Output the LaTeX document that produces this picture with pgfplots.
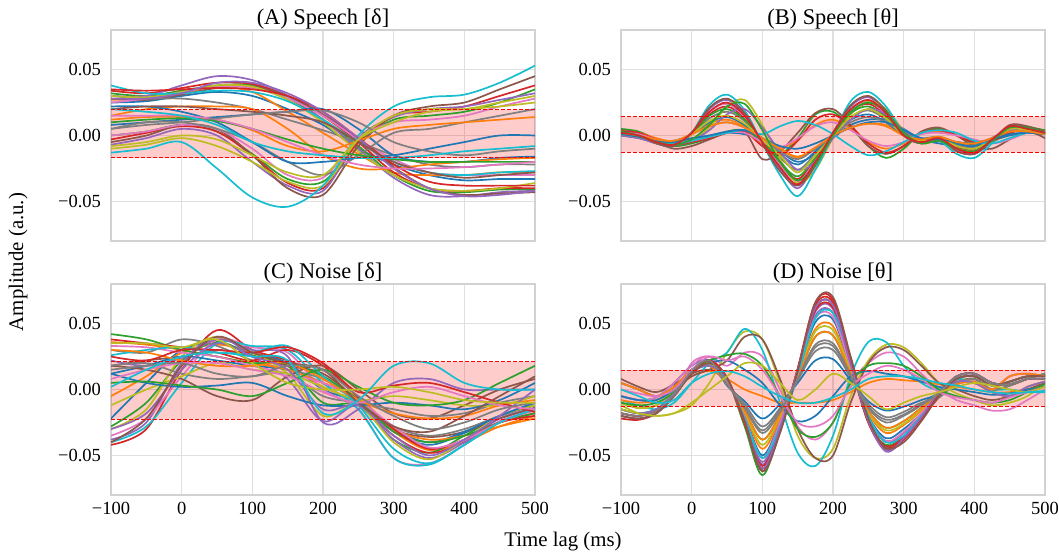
\documentclass[border=0pt]{standalone}
\usepackage{fontspec}
\setmainfont{Liberation Serif}
\usepackage{pgfplots}
\pgfplotsset{compat=1.18}
\definecolor{c0}{HTML}{1F77B4}\definecolor{c1}{HTML}{FF7F0E}\definecolor{c2}{HTML}{2CA02C}
\definecolor{c3}{HTML}{D62728}\definecolor{c4}{HTML}{9467BD}\definecolor{c5}{HTML}{8C564B}
\definecolor{c6}{HTML}{E377C2}\definecolor{c7}{HTML}{7F7F7F}\definecolor{c8}{HTML}{BCBD22}
\definecolor{c9}{HTML}{17BECF}
\pgfplotscreateplotcyclelist{tab}{c0\\c1\\c2\\c3\\c4\\c5\\c6\\c7\\c8\\c9\\}
\def\popt{smooth,tension=0.55,line width=0.85pt}
% delta panels: x = -100,-50,...,500
\newcommand\LA[9]{\def\pA{(-100,#1)(-50,#2)(0,#3)(50,#4)(100,#5)(150,#6)(200,#7)(250,#8)(300,#9)}\LB}
\newcommand\LB[4]{\edef\tmp{\noexpand\addplot+[\popt] coordinates {\pA(350,#1)(400,#2)(450,#3)(500,#4)};}\tmp}
% theta panels: x = -100,-75,...,500
\newcommand\TA[9]{\def\pA{(-100,#1)(-75,#2)(-50,#3)(-25,#4)(0,#5)(25,#6)(50,#7)(75,#8)(100,#9)}\TB}
\newcommand\TB[9]{\edef\pA{\pA(125,#1)(150,#2)(175,#3)(200,#4)(225,#5)(250,#6)(275,#7)(300,#8)(325,#9)}\TC}
\newcommand\TC[7]{\edef\tmp{\noexpand\addplot+[\popt] coordinates {\pA(350,#1)(375,#2)(400,#3)(425,#4)(450,#5)(475,#6)(500,#7)};}\tmp}
\newcommand\band[2]{\addplot[draw=none,fill=red,fill opacity=0.2,forget plot] coordinates {(-100,#1)(500,#1)(500,#2)(-100,#2)};}
\newcommand\dlines[2]{\addplot[red,line width=0.6pt,dash pattern=on 2pt off 1pt,forget plot] coordinates {(-100,#1)(500,#1)};
\addplot[red,line width=0.6pt,dash pattern=on 2pt off 1pt,forget plot] coordinates {(-100,#2)(500,#2)};}
\pgfplotsset{panel/.style={scale only axis, width=212pt, height=105.5pt, anchor=south west,
  xmin=-100, xmax=500, ymin=-0.08, ymax=0.08, scaled y ticks=false, scaled x ticks=false,
  xtick={-100,0,...,500}, ytick={-0.05,0,0.05}, yticklabels={−0.05,0.00,0.05},
  grid=major, major grid style={draw=gray!25, line width=0.6pt},
  axis line style={draw=gray!35, line width=0.6pt}, major tick length=0pt, tick style={draw=none},
  cycle list name=tab, no markers,
  tick label style={font=\fontsize{9.25}{11}\selectfont},
  yticklabel style={xshift=-1.5pt},
  title style={font=\fontsize{11.2}{13}\selectfont, at={(0.5,1)}, anchor=base, yshift=-3.4pt}}}
\begin{document}
\begin{tikzpicture}
\useasboundingbox (0,0) rectangle (529.5pt,278pt);
% (A)
\begin{axis}[panel, at={(55.5pt,157.5pt)}, title={(A) Speech [δ]}, xticklabels={}]
\band{-0.0167}{0.0197}
\LA{0.025}{0.026}{0.03}{0.033}{0.03}{0.02}{0.008}{-0.01}{-0.022}{-0.03}{-0.034}{-0.033}{-0.033}
\LA{0.027}{0.028}{0.032}{0.037}{0.033}{0.018}{0.002}{-0.014}{-0.028}{-0.03}{-0.03}{-0.028}{-0.028}
\LA{0.032}{0.03}{0.034}{0.038}{0.038}{0.028}{0.012}{-0.008}{-0.03}{-0.042}{-0.043}{-0.041}{-0.041}
\LA{0.034}{0.032}{0.036}{0.04}{0.039}{0.03}{0.015}{-0.005}{-0.028}{-0.04}{-0.042}{-0.04}{-0.04}
\LA{0.03}{0.03}{0.038}{0.045}{0.042}{0.03}{0.012}{-0.01}{-0.032}{-0.045}{-0.046}{-0.043}{-0.042}
\LA{0.028}{0.027}{0.031}{0.036}{0.037}{0.03}{0.016}{-0.002}{-0.024}{-0.04}{-0.045}{-0.044}{-0.043}
\LA{0.025}{0.028}{0.033}{0.037}{0.036}{0.028}{0.015}{-0.003}{-0.018}{-0.028}{-0.03}{-0.03}{-0.03}
\LA{0.03}{0.028}{0.028}{0.025}{0.02}{0.012}{0.004}{-0.005}{-0.015}{-0.022}{-0.024}{-0.022}{-0.022}
\LA{0.03}{0.029}{0.033}{0.038}{0.037}{0.027}{0.01}{-0.012}{-0.03}{-0.04}{-0.042}{-0.04}{-0.036}
\LA{0.038}{0.032}{0.032}{0.034}{0.033}{0.026}{0.012}{-0.005}{-0.02}{-0.028}{-0.03}{-0.028}{-0.027}
\LA{0.008}{0.01}{0.012}{0.014}{0.016}{0.018}{0.02}{0.005}{-0.015}{-0.02}{-0.02}{-0.017}{-0.016}
\LA{0.015}{0.02}{0.022}{0.022}{0.02}{0.005}{-0.015}{-0.025}{-0.025}{-0.022}{-0.02}{-0.018}{-0.017}
\LA{0}{0.003}{0.008}{0.003}{-0.014}{-0.033}{-0.035}{-0.005}{0.012}{0.015}{0.018}{0.025}{0.035}
\LA{-0.003}{0.002}{0.007}{0.003}{-0.015}{-0.036}{-0.04}{-0.005}{0.015}{0.018}{0.022}{0.03}{0.038}
\LA{-0.007}{-0.002}{0.005}{0}{-0.02}{-0.038}{-0.042}{-0.002}{0.014}{0.02}{0.022}{0.027}{0.032}
\LA{-0.005}{0}{0.008}{0.005}{-0.015}{-0.04}{-0.045}{-0.008}{0.015}{0.022}{0.025}{0.035}{0.045}
\LA{0}{0.003}{0.008}{0.005}{-0.01}{-0.03}{-0.032}{-0.002}{0.01}{0.012}{0.015}{0.022}{0.028}
\LA{0.005}{0.01}{0.01}{0.005}{-0.005}{-0.02}{-0.03}{-0.015}{0.002}{0.005}{0.01}{0.015}{0.02}
\LA{-0.01}{-0.007}{-0.002}{-0.008}{-0.02}{-0.035}{-0.038}{-0.003}{0.015}{0.02}{0.02}{0.025}{0.03}
\LA{-0.013}{-0.01}{-0.005}{-0.025}{-0.047}{-0.054}{-0.038}{0}{0.022}{0.029}{0.031}{0.04}{0.053}
\LA{0.022}{0.022}{0.018}{0.01}{-0.005}{-0.02}{-0.02}{-0.017}{-0.015}{-0.01}{-0.005}{0}{0}
\LA{0.012}{0.014}{0.014}{0.012}{0.004}{-0.008}{-0.012}{-0.004}{0.005}{0.008}{0.01}{0.012}{0.014}
\LA{0.01}{0.012}{0.013}{0.011}{0.005}{-0.003}{-0.01}{-0.015}{-0.018}{-0.02}{-0.02}{-0.02}{-0.02}
\LA{0.035}{0.034}{0.035}{0.036}{0.035}{0.03}{0.018}{-0.002}{-0.022}{-0.035}{-0.038}{-0.038}{-0.038}
\LA{0.028}{0.028}{0.032}{0.04}{0.04}{0.032}{0.018}{-0.002}{-0.025}{-0.04}{-0.046}{-0.045}{-0.042}
\LA{0.02}{0.022}{0.022}{0.02}{0.018}{0.015}{0.01}{-0.005}{-0.02}{-0.028}{-0.032}{-0.03}{-0.028}
\LA{0.015}{0.015}{0.015}{0.012}{0.005}{-0.005}{-0.015}{-0.022}{-0.025}{-0.025}{-0.024}{-0.022}{-0.02}
\LA{0.005}{0.008}{0.01}{0.013}{0.016}{0.018}{0.019}{0.01}{-0.005}{-0.012}{-0.015}{-0.012}{-0.01}
\LA{-0.008}{-0.005}{0}{-0.003}{-0.015}{-0.028}{-0.03}{-0.003}{0.01}{0.018}{0.02}{0.022}{0.025}
\LA{0.02}{0.018}{0.015}{0.008}{-0.005}{-0.012}{-0.015}{-0.017}{-0.017}{-0.015}{-0.012}{-0.01}{-0.008}
\dlines{-0.0167}{0.0197}
\end{axis}
% (B)
\begin{axis}[panel, at={(310.5pt,157.5pt)}, title={(B) Speech [θ]}, xticklabels={}]
\band{-0.0127}{0.0144}
\TA{0}{-0.002}{-0.005}{-0.006}{-0.003}{0}{0.002}{0.001}{-0.003}{-0.012}{-0.02}{-0.014}{-0.002}{0.008}{0.012}{0.012}{0.005}{-0.003}{-0.006}{-0.008}{-0.008}{-0.004}{0}{0.002}{0.001}
\TA{0.002}{0}{-0.004}{-0.006}{0.001}{0.009}{0.012}{0.007}{-0.002}{-0.01}{-0.017}{-0.01}{0}{0.006}{0.009}{0.008}{0.002}{-0.004}{-0.003}{-0.006}{-0.007}{-0.002}{0.004}{0.003}{0.001}
\TA{0.005}{0.003}{-0.003}{-0.008}{-0.006}{-0.002}{0.003}{0.004}{-0.004}{-0.014}{-0.002}{0.016}{0.018}{0.006}{-0.008}{-0.017}{-0.01}{0.002}{0.005}{0}{-0.006}{-0.005}{0.003}{0.006}{0.004}
\TA{0.002}{0}{-0.005}{-0.006}{0.001}{0.016}{0.022}{0.013}{-0.004}{-0.021}{-0.033}{-0.018}{0.002}{0.018}{0.024}{0.015}{0}{-0.005}{-0.002}{-0.009}{-0.011}{-0.003}{0.006}{0.005}{0.002}
\TA{0.002}{0}{-0.006}{-0.008}{0.002}{0.02}{0.027}{0.016}{-0.005}{-0.025}{-0.04}{-0.022}{0.002}{0.022}{0.029}{0.018}{0}{-0.006}{-0.002}{-0.011}{-0.014}{-0.004}{0.007}{0.006}{0.002}
\TA{0.004}{0.002}{-0.005}{-0.01}{-0.008}{-0.003}{0.002}{0.003}{-0.018}{-0.012}{0.002}{0.017}{0.02}{0.008}{-0.008}{-0.014}{-0.008}{0.003}{0.006}{0}{-0.008}{-0.01}{-0.003}{0.003}{-0.002}
\TA{0.002}{0}{-0.005}{-0.006}{0.002}{0.018}{0.024}{0.014}{-0.005}{-0.022}{-0.035}{-0.019}{0.002}{0.019}{0.026}{0.016}{0}{-0.005}{-0.002}{-0.01}{-0.012}{-0.003}{0.006}{0.005}{0.002}
\TA{0.002}{0}{-0.004}{-0.005}{0.001}{0.013}{0.018}{0.011}{-0.004}{-0.017}{-0.026}{-0.014}{0.001}{0.014}{0.019}{0.012}{0}{-0.004}{-0.001}{-0.007}{-0.009}{-0.002}{0.005}{0.004}{0.001}
\TA{0.001}{-0.001}{-0.005}{-0.007}{-0.004}{0.006}{0.022}{0.027}{0.008}{-0.018}{-0.036}{-0.026}{-0.002}{0.016}{0.026}{0.02}{0.004}{-0.006}{-0.004}{-0.01}{-0.012}{-0.004}{0.006}{0.006}{0.003}
\TA{0.002}{0}{-0.006}{-0.008}{0.002}{0.023}{0.031}{0.019}{-0.006}{-0.03}{-0.046}{-0.026}{0}{0.026}{0.033}{0.022}{0.002}{-0.006}{-0.004}{-0.014}{-0.017}{-0.006}{0.006}{0.006}{0.002}
\TA{0.002}{0}{-0.003}{-0.004}{0.001}{0.01}{0.014}{0.008}{-0.003}{-0.014}{-0.022}{-0.012}{0.001}{0.012}{0.016}{0.01}{0}{-0.003}{-0.001}{-0.006}{-0.008}{-0.002}{0.004}{0.003}{0.001}
\TA{0.003}{0.002}{-0.002}{-0.005}{-0.004}{-0.001}{0.002}{0.003}{-0.006}{-0.01}{-0.003}{0.008}{0.012}{0.005}{-0.005}{-0.01}{-0.006}{0.002}{0.003}{0}{-0.004}{-0.003}{0.002}{0.004}{0.002}
\TA{0.002}{0}{-0.004}{-0.006}{0.001}{0.015}{0.02}{0.012}{-0.004}{-0.02}{-0.031}{-0.017}{0.001}{0.017}{0.022}{0.014}{0}{-0.004}{-0.001}{-0.008}{-0.01}{-0.003}{0.006}{0.004}{0.001}
\TA{0.003}{0.002}{-0.003}{-0.007}{-0.005}{-0.002}{0.002}{0.003}{-0.008}{-0.015}{-0.004}{0.012}{0.016}{0.007}{-0.006}{-0.013}{-0.008}{0.002}{0.004}{0}{-0.005}{-0.004}{0.002}{0.005}{0.003}
\TA{0}{-0.002}{-0.006}{-0.007}{-0.004}{0.004}{0.016}{0.02}{0.006}{-0.012}{-0.026}{-0.02}{-0.002}{0.012}{0.02}{0.016}{0.004}{-0.004}{-0.004}{-0.008}{-0.01}{-0.004}{0.004}{0.005}{0.002}
\TA{0.003}{0}{-0.006}{-0.008}{0.002}{0.021}{0.028}{0.017}{-0.006}{-0.027}{-0.038}{-0.023}{0.002}{0.023}{0.03}{0.019}{0}{-0.006}{-0.002}{-0.012}{-0.014}{-0.004}{0.008}{0.007}{0.003}
\TA{0.002}{0.001}{-0.003}{-0.005}{-0.004}{-0.001}{0.002}{0.002}{-0.005}{-0.009}{-0.002}{0.007}{0.01}{0.004}{-0.004}{-0.008}{-0.005}{0.001}{0.002}{0}{-0.003}{-0.006}{-0.003}{0.002}{0.002}
\TA{0.001}{-0.001}{-0.004}{-0.005}{0.001}{0.007}{0.01}{0.006}{-0.002}{-0.012}{-0.018}{-0.01}{0}{0.01}{0.014}{0.01}{0.002}{-0.002}{-0.001}{-0.005}{-0.006}{-0.002}{0.003}{0.003}{0.001}
\TA{0.001}{-0.001}{-0.004}{-0.006}{0.001}{0.011}{0.015}{0.009}{-0.003}{-0.015}{-0.028}{-0.015}{0}{0.014}{0.02}{0.013}{0}{-0.004}{-0.002}{-0.008}{-0.01}{-0.003}{0.005}{0.004}{0.001}
\TA{0.002}{0}{-0.004}{-0.006}{-0.004}{-0.001}{0.002}{0.004}{0.001}{0.007}{0.011}{0.008}{0.001}{-0.008}{-0.015}{-0.012}{-0.005}{0.002}{0.004}{0.002}{-0.004}{-0.006}{-0.002}{0.002}{0.002}
\TA{0.001}{-0.001}{-0.004}{-0.005}{-0.002}{0}{0.003}{0.004}{-0.002}{-0.008}{-0.01}{-0.006}{0}{0.006}{0.01}{0.01}{0.004}{-0.002}{-0.003}{-0.005}{-0.006}{-0.003}{0.001}{0.002}{0.001}
\TA{0.002}{0}{-0.003}{-0.004}{0.001}{0.007}{0.01}{0.006}{-0.002}{-0.01}{-0.016}{-0.009}{0}{0.006}{0.009}{0.007}{0}{-0.003}{-0.001}{-0.005}{-0.006}{-0.002}{0.003}{0.003}{0.001}
\TA{0.003}{0}{-0.005}{-0.007}{-0.003}{0.008}{0.022}{0.024}{0.004}{-0.02}{-0.034}{-0.022}{0}{0.018}{0.025}{0.018}{0.002}{-0.006}{-0.004}{-0.01}{-0.012}{-0.004}{0.006}{0.006}{0.002}
\TA{0.002}{0}{-0.005}{-0.007}{0.002}{0.018}{0.025}{0.015}{-0.005}{-0.024}{-0.037}{-0.02}{0.002}{0.02}{0.027}{0.017}{0}{-0.005}{-0.002}{-0.01}{-0.013}{-0.003}{0.007}{0.005}{0.002}
\dlines{-0.0127}{0.0144}
\end{axis}
% (C)
\begin{axis}[panel, at={(55.5pt,30.5pt)}, title={(C) Noise [δ]}, xticklabels={−100,0,100,200,300,400,500}]
\band{-0.0225}{0.021}
\LA{-0.022}{0.005}{0.03}{0.035}{0.028}{0.02}{0}{-0.01}{-0.032}{-0.042}{-0.033}{-0.02}{-0.01}
\LA{-0.005}{0.01}{0.028}{0.034}{0.028}{0.018}{0.002}{-0.01}{-0.032}{-0.046}{-0.04}{-0.028}{-0.02}
\LA{-0.028}{-0.01}{0.022}{0.036}{0.026}{0.018}{-0.01}{-0.012}{-0.038}{-0.048}{-0.035}{-0.02}{-0.012}
\LA{-0.042}{-0.03}{0.015}{0.045}{0.03}{0.022}{0.01}{-0.01}{-0.035}{-0.048}{-0.04}{-0.025}{-0.018}
\LA{-0.038}{-0.025}{0.02}{0.04}{0.025}{0.008}{-0.024}{-0.012}{-0.038}{-0.052}{-0.04}{-0.022}{-0.014}
\LA{0.018}{0.022}{0.025}{0.03}{0.025}{0.018}{0.012}{-0.008}{-0.03}{-0.036}{-0.032}{-0.022}{-0.014}
\LA{-0.035}{-0.022}{0.01}{0.038}{0.032}{0.028}{0}{-0.015}{-0.052}{-0.056}{-0.042}{-0.024}{-0.016}
\LA{0.03}{0.028}{0.038}{0.033}{0.022}{0.015}{0.008}{-0.008}{-0.028}{-0.035}{-0.03}{-0.02}{-0.012}
\LA{-0.03}{-0.015}{0.025}{0.04}{0.028}{0.012}{-0.02}{-0.012}{-0.04}{-0.053}{-0.038}{-0.02}{-0.012}
\LA{-0.04}{-0.028}{0.005}{0.035}{0.033}{0.03}{0.005}{-0.015}{-0.052}{-0.057}{-0.042}{-0.025}{-0.015}
\LA{0.012}{0.018}{0.025}{0.022}{0.018}{0.015}{0.005}{-0.008}{-0.03}{-0.04}{-0.032}{-0.02}{-0.01}
\LA{0.036}{0.034}{0.03}{0.025}{0.02}{0.015}{0.005}{-0.006}{-0.03}{-0.038}{-0.035}{-0.028}{-0.022}
\LA{0.042}{0.038}{0.03}{0.025}{0.02}{0.02}{0.01}{-0.008}{-0.032}{-0.04}{-0.035}{-0.025}{-0.018}
\LA{0.038}{0.035}{0.032}{0.028}{0.022}{0.03}{0.018}{-0.006}{-0.03}{-0.045}{-0.038}{-0.025}{-0.02}
\LA{0.022}{0.018}{0.024}{0.038}{0.03}{0.025}{-0.025}{-0.015}{0.005}{0.008}{0}{0}{0}
\LA{0.018}{0.015}{0.008}{-0.005}{-0.008}{0.01}{0.018}{0}{-0.018}{-0.022}{-0.012}{0}{0.008}
\LA{0.033}{0.032}{0.028}{0.025}{0.018}{0.012}{0.005}{-0.008}{-0.028}{-0.044}{-0.038}{-0.025}{-0.015}
\LA{0.018}{0.02}{0.012}{0.008}{0.01}{0.012}{-0.005}{-0.01}{-0.015}{-0.02}{-0.018}{-0.01}{-0.005}
\LA{-0.012}{0}{0.01}{0.02}{0.015}{0.012}{0.002}{-0.008}{-0.005}{-0.008}{-0.012}{-0.012}{-0.005}
\LA{0.026}{0.03}{0.032}{0.028}{0.028}{0.033}{0.01}{-0.012}{-0.045}{-0.056}{-0.042}{-0.025}{-0.015}
\LA{0.012}{0.005}{0.002}{0.003}{0.005}{-0.005}{-0.012}{-0.012}{-0.01}{-0.012}{-0.015}{-0.008}{0.005}
\LA{0.03}{0.028}{0.022}{0.018}{0.018}{0.02}{0.008}{-0.008}{-0.018}{-0.022}{-0.02}{-0.012}{-0.008}
\LA{0.005}{0.006}{0.003}{0}{-0.005}{0.005}{0.015}{0.002}{-0.01}{-0.012}{-0.008}{0.005}{0.018}
\LA{0.025}{0.022}{0.03}{0.03}{0.028}{0.032}{0.02}{-0.002}{0.003}{0.005}{-0.002}{-0.01}{-0.017}
\LA{-0.03}{-0.018}{0.015}{0.035}{0.025}{0.015}{-0.015}{-0.012}{-0.035}{-0.05}{-0.038}{-0.02}{0}
\LA{-0.04}{-0.022}{0.018}{0.04}{0.028}{0.02}{0.015}{-0.01}{-0.028}{-0.032}{-0.02}{-0.005}{0.01}
\LA{0.008}{0.015}{0.02}{0.02}{0.015}{0.01}{-0.002}{-0.01}{-0.002}{0.002}{-0.005}{-0.012}{-0.015}
\LA{0.015}{0.018}{0.02}{0.012}{0.01}{0.018}{0.015}{-0.005}{-0.02}{-0.03}{-0.025}{-0.015}{-0.01}
\LA{0.035}{0.035}{0.032}{0.038}{0.02}{0.005}{0}{0}{0.002}{-0.002}{-0.008}{-0.01}{-0.01}
\LA{0.002}{0.015}{0.025}{0.028}{0.025}{0.022}{-0.018}{-0.008}{0.018}{0.02}{0.005}{0}{0}
\dlines{-0.0225}{0.021}
\end{axis}
% (D)
\begin{axis}[panel, at={(310.5pt,30.5pt)}, title={(D) Noise [θ]}, xticklabels={−100,0,100,200,300,400,500}]
\band{-0.0126}{0.0146}
\TA{-0.015}{-0.018}{-0.015}{-0.003}{0.013}{0.018}{0.006}{-0.02}{-0.05}{-0.024}{0.012}{0.051}{0.053}{0.016}{-0.02}{-0.037}{-0.03}{-0.018}{-0.003}{0.01}{0.012}{0.005}{0.004}{0.008}{0.008}
\TA{-0.01}{-0.014}{-0.012}{0}{0.015}{0.02}{0.006}{-0.018}{-0.045}{-0.022}{0.011}{0.046}{0.048}{0.014}{-0.018}{-0.033}{-0.027}{-0.016}{-0.002}{0.006}{0.005}{-0.002}{-0.005}{0.002}{0.006}
\TA{-0.02}{-0.022}{-0.018}{-0.005}{0.012}{0.02}{0.008}{-0.028}{-0.065}{-0.03}{0.015}{0.062}{0.064}{0.018}{-0.025}{-0.042}{-0.036}{-0.02}{-0.005}{0.008}{0.01}{0.003}{0.006}{0.01}{0.01}
\TA{-0.022}{-0.023}{-0.018}{-0.004}{0.014}{0.02}{0.008}{-0.025}{-0.062}{-0.03}{0.015}{0.064}{0.066}{0.02}{-0.025}{-0.046}{-0.038}{-0.022}{-0.006}{0.005}{0.008}{0}{0.003}{0.008}{0.012}
\TA{-0.018}{-0.02}{-0.016}{-0.004}{0.014}{0.022}{0.007}{-0.023}{-0.057}{-0.028}{0.014}{0.059}{0.061}{0.018}{-0.023}{-0.046}{-0.038}{-0.02}{-0.004}{0.004}{0.006}{0}{0.01}{0.012}{0.01}
\TA{0.008}{0.002}{-0.002}{0.004}{0.012}{0.015}{0.008}{-0.024}{-0.06}{-0.029}{0.015}{0.062}{0.064}{0.019}{-0.024}{-0.045}{-0.037}{-0.021}{-0.005}{0.008}{0.01}{0.003}{0.006}{0.01}{0.01}
\TA{-0.005}{-0.008}{-0.01}{-0.005}{0.02}{0.025}{0.018}{0.028}{0.025}{0}{-0.028}{-0.038}{-0.025}{0.005}{0.02}{0.028}{0.025}{0.012}{0}{-0.008}{-0.012}{-0.016}{-0.015}{-0.008}{0}
\TA{-0.01}{-0.014}{-0.012}{0}{0.015}{0.02}{0.004}{-0.013}{-0.031}{-0.015}{0.008}{0.032}{0.033}{0.01}{-0.013}{-0.023}{-0.019}{-0.011}{-0.002}{0.006}{0.005}{-0.002}{-0.005}{0.002}{0.006}
\TA{-0.012}{-0.018}{-0.02}{-0.018}{-0.012}{0.005}{0.028}{0.044}{0.038}{0.005}{-0.035}{-0.052}{-0.045}{-0.005}{0.022}{0.034}{0.032}{0.02}{0.005}{-0.003}{-0.008}{-0.012}{-0.01}{-0.005}{0.005}
\TA{-0.008}{-0.012}{-0.015}{-0.01}{0.005}{0.02}{0.028}{0.046}{0.03}{-0.01}{-0.048}{-0.058}{-0.035}{0.01}{0.036}{0.036}{0.018}{0.005}{0}{0.008}{0.005}{0}{0}{-0.002}{-0.002}
\TA{-0.005}{-0.008}{-0.006}{0.005}{0.018}{0.022}{0.003}{-0.009}{-0.022}{-0.011}{0.005}{0.022}{0.023}{0.007}{-0.009}{-0.016}{-0.013}{-0.008}{-0.003}{0.01}{0.012}{0.005}{0.004}{0.008}{0.008}
\TA{-0.008}{-0.01}{-0.008}{0}{0.01}{0.014}{0.008}{0}{-0.005}{-0.01}{-0.01}{-0.01}{-0.008}{-0.002}{0.005}{0.008}{0.007}{0.006}{0.004}{0.002}{0}{-0.002}{-0.002}{0}{0.002}
\TA{-0.015}{-0.018}{-0.015}{-0.003}{0.013}{0.018}{0.005}{-0.016}{-0.038}{-0.019}{0.009}{0.04}{0.041}{0.012}{-0.016}{-0.029}{-0.024}{-0.014}{-0.006}{0.005}{0.008}{0}{0.003}{0.008}{0.012}
\TA{-0.018}{-0.02}{-0.016}{-0.004}{0.014}{0.022}{0.008}{-0.024}{-0.058}{-0.028}{0.014}{0.06}{0.062}{0.019}{-0.024}{-0.043}{-0.036}{-0.021}{-0.005}{0.008}{0.01}{0.003}{0.006}{0.01}{0.01}
\TA{-0.02}{-0.022}{-0.018}{-0.005}{0.012}{0.02}{0.007}{-0.022}{-0.055}{-0.026}{0.013}{0.056}{0.058}{0.018}{-0.022}{-0.04}{-0.033}{-0.019}{-0.003}{0.01}{0.012}{0.005}{0.004}{0.008}{0.008}
\TA{0.005}{0}{-0.005}{0}{0.01}{0.015}{0.022}{0.04}{0.038}{0.008}{-0.03}{-0.052}{-0.05}{-0.01}{0.02}{0.032}{0.03}{0.018}{0.005}{0}{-0.005}{-0.008}{-0.005}{0}{0.005}
\TA{-0.005}{-0.008}{-0.006}{0.005}{0.018}{0.025}{0.007}{-0.021}{-0.052}{-0.025}{0.013}{0.054}{0.055}{0.017}{-0.021}{-0.039}{-0.032}{-0.018}{-0.004}{0.004}{0.006}{0}{0.01}{0.012}{0.01}
\TA{0.005}{0}{-0.005}{0.002}{0.015}{0.018}{0.004}{-0.011}{-0.028}{-0.014}{0.007}{0.029}{0.03}{0.009}{-0.011}{-0.021}{-0.017}{-0.01}{-0.006}{0.005}{0.008}{0}{0.003}{0.008}{0.012}
\TA{-0.01}{-0.014}{-0.012}{0}{0.015}{0.02}{0.005}{-0.017}{-0.042}{-0.02}{0.01}{0.044}{0.045}{0.014}{-0.017}{-0.031}{-0.026}{-0.015}{-0.002}{0.006}{0.005}{-0.002}{-0.005}{0.002}{0.006}
\TA{-0.015}{-0.018}{-0.015}{-0.003}{0.013}{0.018}{0.007}{-0.022}{-0.052}{-0.028}{0.01}{0.054}{0.058}{0.022}{-0.02}{-0.04}{-0.035}{-0.02}{-0.005}{0.008}{0.01}{0.003}{0.006}{0.01}{0.01}
\TA{-0.005}{-0.008}{-0.008}{0}{0.015}{0.02}{0.022}{0.015}{0.005}{-0.012}{-0.024}{-0.02}{-0.005}{0.01}{0.014}{0.012}{0.01}{0.006}{0.002}{0}{-0.002}{-0.004}{-0.003}{0}{0.002}
\TA{0.005}{0}{-0.005}{0.002}{0.015}{0.018}{0.005}{-0.016}{-0.038}{-0.019}{0.009}{0.04}{0.041}{0.012}{-0.016}{-0.029}{-0.024}{-0.014}{-0.004}{0.004}{0.006}{0}{0.01}{0.012}{0.01}
\TA{-0.01}{-0.012}{-0.01}{-0.002}{0.015}{0.022}{0.026}{0.027}{0.018}{-0.005}{-0.03}{-0.036}{-0.025}{0.005}{0.018}{0.02}{0.018}{0.01}{0}{-0.005}{-0.008}{-0.01}{-0.008}{-0.002}{0.004}
\TA{-0.018}{-0.02}{-0.016}{-0.004}{0.014}{0.022}{0.009}{-0.026}{-0.06}{-0.032}{0.016}{0.066}{0.068}{0.021}{-0.025}{-0.044}{-0.038}{-0.022}{-0.003}{0.01}{0.012}{0.005}{0.004}{0.008}{0.008}
\TA{-0.015}{-0.018}{-0.015}{-0.003}{0.013}{0.018}{0.008}{-0.024}{-0.06}{-0.029}{0.015}{0.062}{0.064}{0.019}{-0.024}{-0.047}{-0.037}{-0.021}{-0.002}{0.006}{0.005}{-0.002}{-0.005}{0.002}{0.006}
\TA{-0.02}{-0.022}{-0.018}{-0.005}{0.012}{0.02}{0.009}{-0.024}{-0.062}{-0.033}{0.014}{0.066}{0.07}{0.025}{-0.022}{-0.044}{-0.04}{-0.024}{-0.005}{0.008}{0.01}{0.003}{0.006}{0.01}{0.01}
\TA{0}{-0.003}{-0.005}{0}{0.015}{0.025}{0.022}{0.025}{0.015}{-0.005}{-0.025}{-0.028}{-0.02}{0.002}{0.012}{0.018}{0.015}{0.008}{-0.002}{-0.006}{-0.008}{-0.01}{-0.006}{-0.002}{0.002}
\TA{-0.018}{-0.02}{-0.016}{-0.004}{0.014}{0.022}{0.004}{-0.014}{-0.033}{-0.017}{0.008}{0.034}{0.035}{0.011}{-0.014}{-0.025}{-0.02}{-0.012}{-0.003}{0.01}{0.012}{0.005}{0.004}{0.008}{0.008}
\TA{-0.015}{-0.018}{-0.02}{-0.018}{-0.01}{0}{0.01}{0.02}{0.018}{0.005}{-0.008}{0}{0.012}{0.005}{-0.005}{-0.015}{-0.01}{-0.005}{-0.002}{0.002}{0.005}{0.003}{0}{-0.002}{0.002}
\TA{0}{-0.005}{-0.01}{-0.008}{0.005}{0.012}{0.014}{0.01}{0.002}{-0.005}{-0.01}{-0.01}{-0.006}{0}{0.008}{0.01}{0.01}{0.008}{0.005}{0.003}{0}{-0.002}{-0.003}{-0.002}{-0.001}
\dlines{-0.0126}{0.0146}
\end{axis}
\node[rotate=90, font=\fontsize{10.4}{12}\selectfont] at (9pt,147pt) {Amplitude (a.u.)};
\node[font=\fontsize{10.4}{12}\selectfont] at (281.5pt,7pt) {Time lag (ms)};
\end{tikzpicture}
\end{document}
